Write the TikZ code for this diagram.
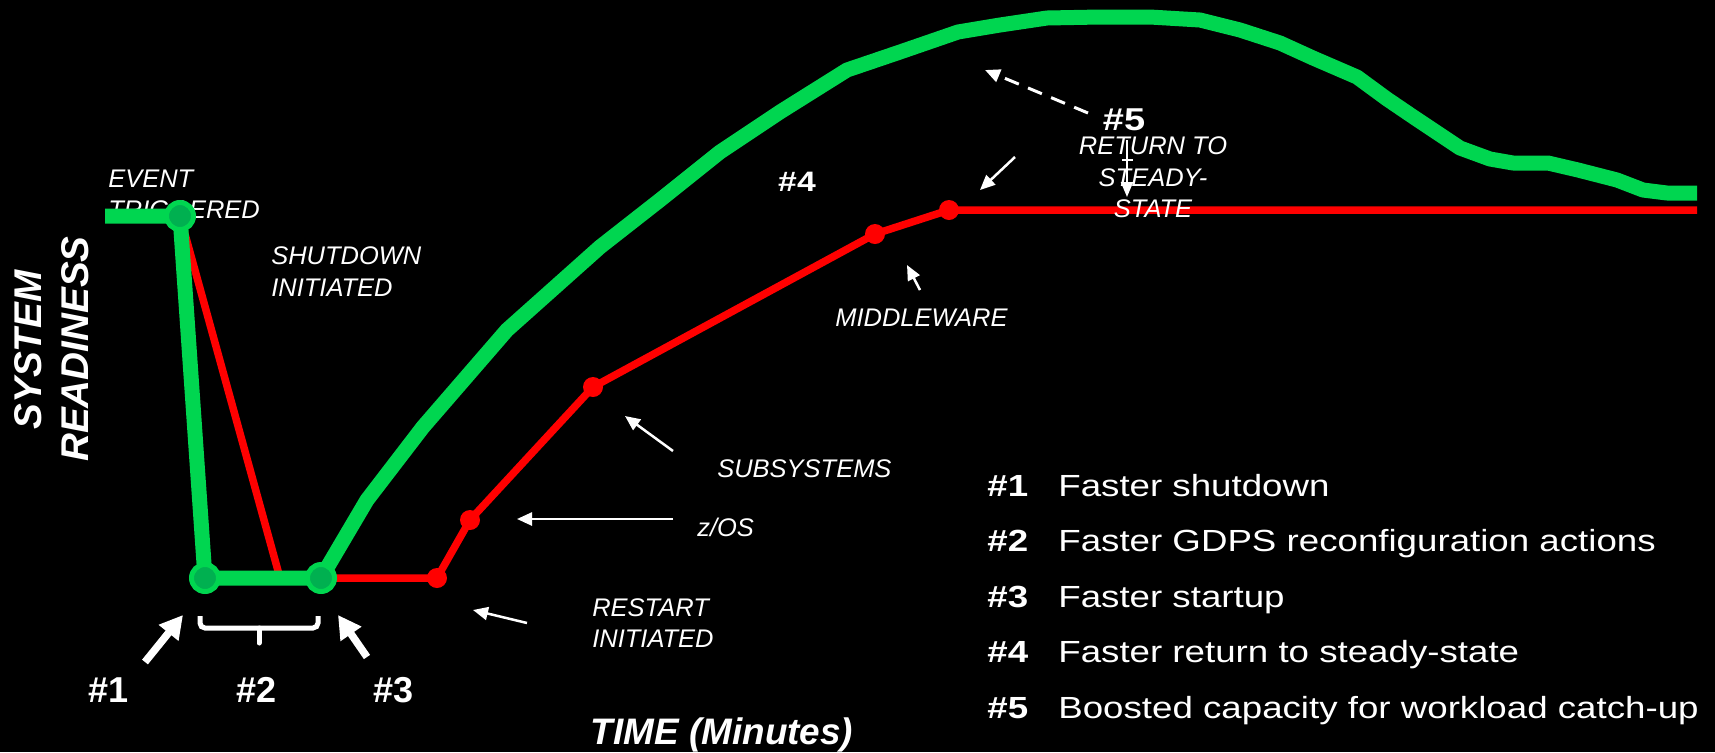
\documentclass[tikz,border=0pt]{standalone}
\usepackage{fontspec}
\setmainfont{Liberation Sans}
\newfontfamily\legendfont[FakeStretch=1.2]{Liberation Sans}
\usetikzlibrary{arrows.meta, positioning}
\definecolor{readygreen}{RGB}{0,214,80}
\definecolor{dotgreen}{RGB}{0,176,80}
\definecolor{pathred}{RGB}{255,0,0}

\begin{document}
\begin{tikzpicture}[x=0.02cm, y=-0.02cm,
  every node/.style={text=white, inner sep=0pt},
  note/.style={font=\fontsize{14.5}{18}\selectfont\itshape, align=left, anchor=west},
  tag/.style={font=\fontsize{20.5}{22}\selectfont\bfseries},
  axis/.style={font=\fontsize{22}{24}\selectfont\bfseries\itshape},
  item/.style={font=\legendfont\fontsize{17.4}{20}\selectfont, anchor=base west},
  gdot/.style={circle, draw=readygreen, line width=0.1cm, fill=dotgreen, minimum size=0.54cm},
  rdot/.style={circle, fill=pathred, minimum size=0.4cm},
  greenpath/.style={draw=readygreen, line width=0.3cm, line join=round},
  redpath/.style={draw=pathred, line width=0.15cm, line join=round},
  pointer/.style={draw=white, line width=0.05cm, -{Triangle[length=0.3cm, width=0.26cm]}},
  bigpointer/.style={draw=white, line width=0.15cm, -{Triangle[length=0.46cm, width=0.48cm]}}
]
\useasboundingbox (0,0) rectangle (1715,752);
\fill[black] (0,0) rectangle (1715,752);

% Key points
\coordinate (start) at (105,216);
\coordinate (trig) at (180,216);
\coordinate (down) at (205,578);
\coordinate (up) at (321,578);
\coordinate (redfoot) at (280,578);
\coordinate (restart) at (437,578);
\coordinate (zos) at (470,520);
\coordinate (subsys) at (593,387);
\coordinate (mware) at (875,234);
\coordinate (steady) at (949,210);
\coordinate (redend) at (1697,210);

% Event label (sits under the green line)
\node[note] (evt) at (108,194.5) {EVENT\\TRIGGERED};

% Red path
\draw[redpath] (trig) -- (redfoot);
\draw[redpath] (up) -- (restart) -- (zos) -- (subsys) -- (mware) -- (steady) -- (redend);

% Green path
\draw[greenpath] (start) -- (trig) -- (down) -- (up) -- plot coordinates {
  (367,500) (423,427) (507,330) (600,247) (660,200) (720,152) (780,112)
  (847,70) (900,52) (958,32) (1000,25) (1047,18) (1100,17) (1150,17)
  (1200,20) (1240,30) (1280,43) (1313,58) (1357,77) (1387,99) (1415,118)
  (1460,148) (1490,159) (1513,163) (1548,163) (1578,170) (1617,180)
  (1643,190) (1667,193) (1697,193)};

% Dots
\foreach \p in {trig, down, up}
  \node[gdot] (\p dot) at (\p) {};
\foreach \p in {restart, zos, subsys, mware, steady}
  \node[rdot] (\p dot) at (\p) {};

% Labels
\node[note] (shut) at (271,271.5) {SHUTDOWN\\INITIATED};
\node[note] (rest) at (592,623) {RESTART\\INITIATED};
\node[note, anchor=base west] (zlab) at (697,536) {z/OS};
\node[note] (sublab) at (717,469) {SUBSYSTEMS};
\node[note] (mwlab) at (835,318) {MIDDLEWARE};
\node[note, align=center, anchor=center] (ret) at (1153,177.5) {RETURN TO\\STEADY-\\STATE};
\node[font=\legendfont\fontsize{16}{18}\selectfont\bfseries] (t4) at (797,182) {\#4};
\node[font=\legendfont\fontsize{18}{20}\selectfont\bfseries] (t5) at (1124,120) {\#5};
\node[tag] (t1) at (109,690) {\#1};
\node[tag] (t2) at (257,690) {\#2};
\node[tag] (t3) at (394,690) {\#3};
\node[axis, rotate=90] (ylab1) at (28,350) {SYSTEM};
\node[axis, rotate=90] (ylab2) at (75,349) {READINESS};
\node[axis, font=\fontsize{21}{24}\selectfont\bfseries\itshape, anchor=base] (xlab) at (722,744) {TIME (Minutes)};

% Pointers
\coordinate (a1s) at (145,662);  \coordinate (a1e) at (183,615);
\coordinate (a3s) at (367,657);  \coordinate (a3e) at (338,615);
\coordinate (ars) at (527,623);  \coordinate (are) at (473,610);
\coordinate (azs) at (673,519);  \coordinate (aze) at (517,519);
\coordinate (ass) at (673,451);  \coordinate (ase) at (625,416);
\coordinate (ams) at (920,290);  \coordinate (ame) at (907,265);
\coordinate (a4s) at (1015,157); \coordinate (a4e) at (980,190);
\coordinate (a5s) at (1088,113); \coordinate (a5e) at (985,70);
\coordinate (avs) at (1127,140); \coordinate (ave) at (1127,197);
\draw[bigpointer] (a1s) -- (a1e);
\draw[bigpointer] (a3s) -- (a3e);
\draw[pointer] (ars) -- (are);
\draw[pointer] (azs) -- (aze);
\draw[pointer] (ass) -- (ase);
\draw[pointer] (ams) -- (ame);
\draw[pointer] (a4s) -- (a4e);
\draw[pointer, line width=0.06cm, dash pattern=on 0.3cm off 0.2cm] (a5s) -- (a5e);
\draw[pointer, line width=0.04cm, -{Triangle[length=0.3cm, width=0.24cm]}] (avs) -- (ave);
\draw[white, line width=0.04cm] (1122,160) -- (1133,160);

% Brace under #2
\draw[white, line width=0.1cm, rounded corners=0.1cm] (200,616) -- (200,628) -- (318,628) -- (318,616);
\draw[white, line width=0.1cm, line cap=round] (259,628) -- (259,643);

% Legend
\foreach \txt [count=\i] in {Faster shutdown, Faster GDPS reconfiguration actions,
    Faster startup, Faster return to steady-state, Boosted capacity for workload catch-up} {
  \node[item, font=\legendfont\fontsize{17.4}{20}\selectfont\bfseries] (key\i) at (987,{496+(\i-1)*55.5}) {\#\i};
  \node[item] (item\i) at (1058,{496+(\i-1)*55.5}) {\txt};
}
\end{tikzpicture}
\end{document}
